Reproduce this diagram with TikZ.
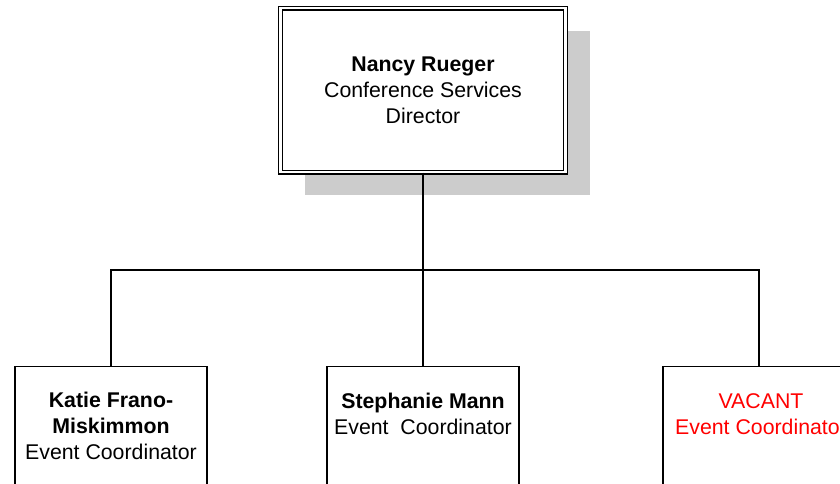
\documentclass[tikz,border=0pt]{standalone}
\usepackage{fontspec}
\setmainfont{Liberation Sans}
\usetikzlibrary{shadows}
\definecolor{shadowgray}{HTML}{CCCCCC}
\definecolor{vacantred}{HTML}{FF0000}
\begin{document}
\begin{tikzpicture}[x=1pt,y=-1pt,
  every node/.style={font=\fontsize{21.3}{26}\selectfont},
  topbox/.style={draw, double, double distance=2.6pt, line width=1.2pt,
    fill=white, minimum width=285pt, minimum height=164pt, inner sep=0pt,
    drop shadow={shadow xshift=24pt, shadow yshift=-23pt, fill=shadowgray, opacity=1}},
  subbox/.style={draw, line width=1.3pt, fill=white, minimum width=192pt,
    minimum height=160pt, anchor=north, inner sep=0pt},
  label/.style={align=center, inner sep=0pt},
  conn/.style={line width=1.3pt}
]
\useasboundingbox (0,0) rectangle (840,483);
\clip (0,0) rectangle (840,483);
\fill[white] (0,0) rectangle (840,483);

\node[topbox, label] (top) at (423,90) {\textbf{Nancy Rueger}\\Conference Services\\Director};

\coordinate (bus) at (423,270);
\node[subbox] (b1) at (111,366) {};
\node[subbox] (b2) at (423,366) {};
\node[subbox] (b3) at (759,366) {};

\node[label] (t1) at (111,426) {\textbf{Katie Frano-}\\\textbf{Miskimmon}\\Event Coordinator};
\node[label] (t2) at (423,414) {\textbf{Stephanie Mann}\\Event\ \ Coordinator};
\node[label, text=vacantred] (t3) at (761,414) {VACANT\\Event Coordinator};

\draw[conn] (top.south) -- (bus);
\draw[conn] (b1.north) |- (bus) -| (b3.north);
\draw[conn] (bus) -- (b2.north);
\end{tikzpicture}
\end{document}
